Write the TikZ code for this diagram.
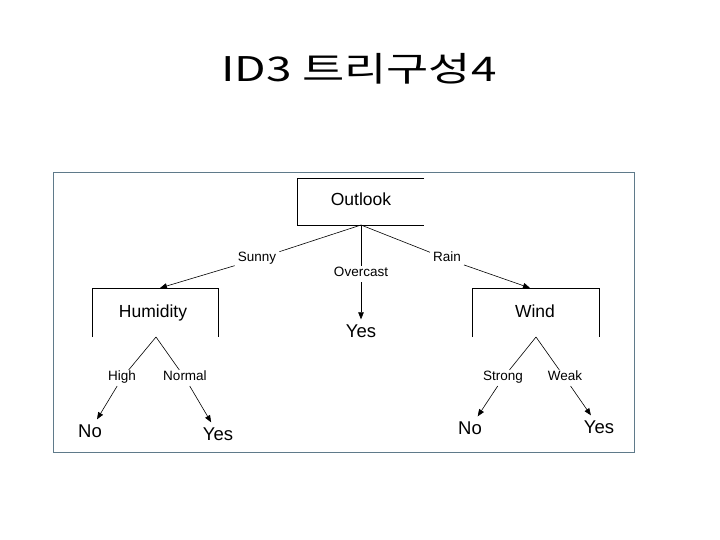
\documentclass[tikz,border=0pt]{standalone}
\usepackage{fontspec}
\setmainfont{Liberation Sans}
\newfontfamily\krfont{Noto Sans CJK KR}
\usetikzlibrary{arrows.meta,positioning}
\definecolor{framegrey}{HTML}{5F7A8A}
\tikzset{
  >={Triangle[length=7pt,width=5.5pt]},
  attr/.style={font=\fontsize{17.5}{20}\selectfont,inner sep=0pt,
               text height=0.72em,text depth=0.2em},
  branch/.style={font=\fontsize{13.5}{15}\selectfont,inner sep=3pt,
                 text height=0.75em,text depth=0.22em},
  leaf/.style={font=\fontsize{18.5}{21}\selectfont,inner sep=5pt},
  edge/.style={line width=0.6pt},
  openbox/.style={line width=0.7pt},
}
\begin{document}
\begin{tikzpicture}[x=1pt,y=-1pt]
  \useasboundingbox (0,0) rectangle (720,540);
  \node[font=\krfont\fontsize{34}{38}\selectfont,xscale=1.35,transform shape]
    (title) at (359,69) {ID3 트리구성4};
  \draw[framegrey,line width=1pt] (53,173) rectangle (634,452);

  % ---- root: Outlook ----
  \draw[openbox] (424,178) -- (297,178) -- (297,225) -- (424,225);
  \node[attr] (outlook) at (361,203) {Outlook};
  \coordinate (outlookB) at (361,225);

  \node[branch] (sunny) at (257,259) {Sunny};
  \node[branch] (overcast) at (361,274) {Overcast};
  \node[branch] (rain) at (447,259) {Rain};

  % ---- Humidity subtree ----
  \draw[openbox] (92,337) -- (92,288) -- (218,288) -- (218,337);
  \node[attr] (humidity) at (153,315) {Humidity};
  \coordinate (humT) at (160,288);
  \coordinate (humB) at (156,337);
  \node[branch] (high) at (122,378) {High};
  \node[branch] (normal) at (185,378) {Normal};
  \node[leaf] (no1) at (90,431) {No};
  \node[leaf] (yes2) at (218,434) {Yes};

  % ---- Overcast leaf ----
  \node[leaf] (yes1) at (361,331) {Yes};

  % ---- Wind subtree ----
  \draw[openbox] (472,337) -- (472,288) -- (599,288) -- (599,337);
  \node[attr] (wind) at (535,315) {Wind};
  \coordinate (windT) at (530,288);
  \coordinate (windB) at (536,337);
  \node[branch] (strong) at (503,378) {Strong};
  \node[branch] (weak) at (565,378) {Weak};
  \node[leaf] (no2) at (470,428) {No};
  \node[leaf] (yes3) at (599,427) {Yes};

  % connectors
  \draw[edge] (outlookB) -- (sunny);
  \draw[edge,->] (sunny) -- (humT);
  \draw[edge] (outlookB) -- (overcast);
  \draw[edge,->] (overcast) -- (yes1);
  \draw[edge] (outlookB) -- (rain);
  \draw[edge,->] (rain) -- (windT);

  \draw[edge] (humB) -- (high);
  \draw[edge] (humB) -- (normal);
  \draw[edge,->] (high) -- (no1);
  \draw[edge,->] (normal) -- (yes2);

  \draw[edge] (windB) -- (strong);
  \draw[edge] (windB) -- (weak);
  \draw[edge,->] (strong) -- (no2);
  \draw[edge,->] (weak) -- (yes3);
\end{tikzpicture}
\end{document}
